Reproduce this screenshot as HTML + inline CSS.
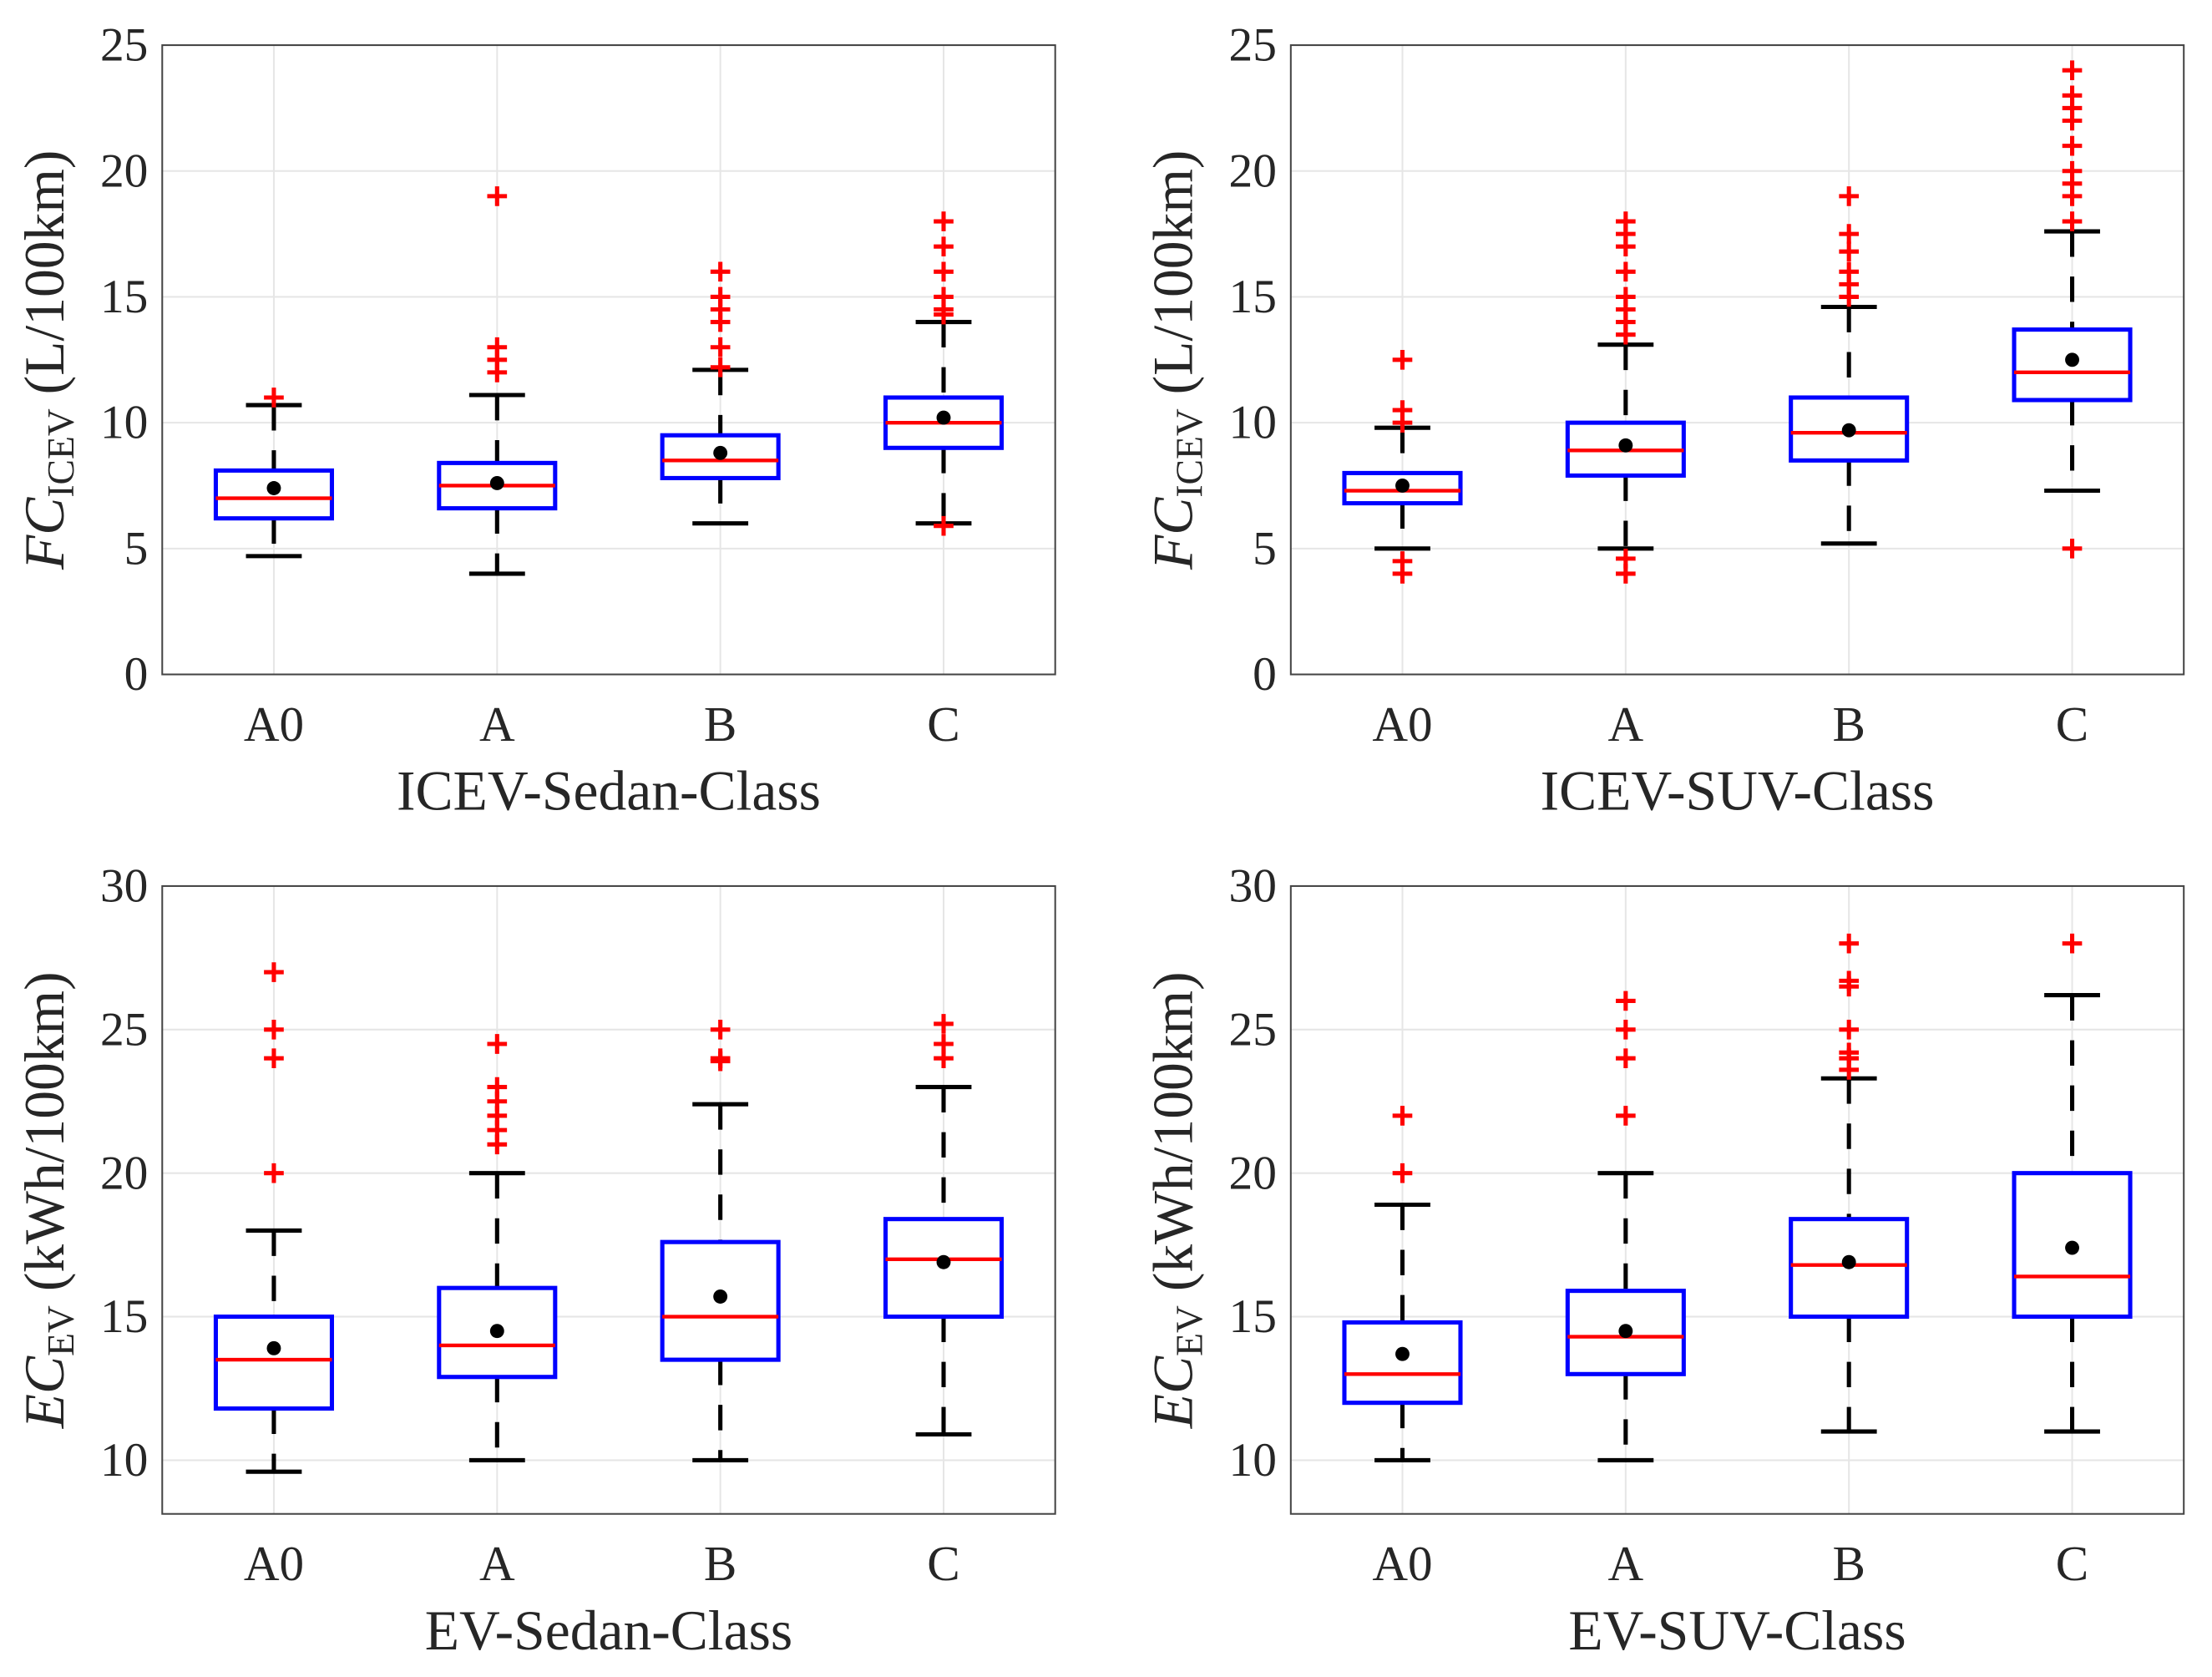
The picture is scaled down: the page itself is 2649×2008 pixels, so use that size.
<!DOCTYPE html>
<html><head><meta charset="utf-8"><style>html,body{margin:0;padding:0;background:#fff}svg{display:block}text{font-family:"Liberation Serif",serif;fill:#262626}</style></head>
<body>
<svg id="c" width="2649" height="2008" viewBox="0 0 1568 1188.6" preserveAspectRatio="none"></svg>
<script>
const categories=["A0","A","B","C"];
// panel 1: ICEV sedan
const p1Low=[4.7,4.0,6.0,6.0], p1Q1=[6.2,6.6,7.8,9.0], p1Med=[7.0,7.5,8.5,10.0], p1Q3=[8.1,8.4,9.5,11.0], p1High=[10.7,11.1,12.1,14.0], p1Mean=[7.4,7.6,8.8,10.2];
const p1Out=[[11],[12,12.5,13,19],[12.2,13,14,14.5,15,16],[5.9,14.3,14.5,15,16,17,18]];
// panel 2: ICEV SUV
const p2Low=[5.0,5.0,5.2,7.3], p2Q1=[6.8,7.9,8.5,10.9], p2Med=[7.3,8.9,9.6,12.0], p2Q3=[8.0,10.0,11.0,13.7], p2High=[9.8,13.1,14.6,17.6], p2Mean=[7.5,9.1,9.7,12.5];
const p2Out=[[4,4.5,10,10.5,12.5],[4,4.6,13.5,14,14.5,15,16,17,17.5,18],[15,15.5,16,16.8,17.5,19],[5,18,19,19.5,20,21,22,22.5,23,24]];
// panel 3: EV sedan
const p3Low=[9.6,10,10,10.9], p3Q1=[11.8,12.9,13.5,15], p3Med=[13.5,14.0,15,17], p3Q3=[15.0,16.0,17.6,18.4], p3High=[18.0,20.0,22.4,23], p3Mean=[13.9,14.5,15.7,16.9];
const p3Out=[[20,24,25,27],[21,21.5,22,22.5,23,24.5],[23.9,24,25],[24,24.5,25.2]];
// panel 4: EV SUV
const p4Low=[10,10,11,11], p4Q1=[12,13,15,15], p4Med=[13,14.3,16.8,16.4], p4Q3=[14.8,15.9,18.4,20], p4High=[18.9,20,23.3,26.2], p4Mean=[13.7,14.5,16.9,17.4];
const p4Out=[[20,22],[22,24,25,26],[23.6,24,24.2,25,26.5,26.7,28],[28]];
const ticksFC=[0,5,10,15,20,25], ticksEC=[10,15,20,25,30];

const NS="http://www.w3.org/2000/svg", svg=document.getElementById('c');
function el(t,a,p){const e=document.createElementNS(NS,t);for(const k in a)e.setAttribute(k,a[k]);(p||svg).appendChild(e);return e;}
function panel(name,L,T,R,B,ymin,ymax,ticks,low,q1,med,q3,high,mean,out,ylab1,ylab2,xlab){
  const g=el('g',{});
  
  
  const X=v=>L+(v-0.5)*(R-L)/4, Y=v=>B-(v-ymin)*(B-T)/(ymax-ymin);
  ticks.forEach(t=>{const l=el('line',{x1:L,x2:R,y1:Y(t),y2:Y(t),stroke:'#e6e6e6','stroke-width':1.2},g);
    
    const tx=el('text',{x:L-10,y:Y(t)+11,'text-anchor':'end','font-size':34},g);tx.textContent=t;
    });
  categories.forEach((c,i)=>{const x=X(i+1);
    const l=el('line',{x1:x,x2:x,y1:T,y2:B,stroke:'#e6e6e6','stroke-width':1.2},g);
    
    const tx=el('text',{x:x,y:B+47,'text-anchor':'middle','font-size':35},g);tx.textContent=c;
    });
  const fr=el('rect',{x:L,y:T,width:R-L,height:B-T,fill:'none',stroke:'#444','stroke-width':1.2},g);
  
  const hw=0.26*(R-L)/4, cw=0.125*(R-L)/4;
  categories.forEach((c,i)=>{const x=X(i+1);
    const bg=el('g',{},g);
    
    
    el('line',{x1:x,x2:x,y1:Y(high[i]),y2:Y(q3[i]),stroke:'#000','stroke-width':3,'stroke-dasharray':'18 14'},bg);
    el('line',{x1:x,x2:x,y1:Y(q1[i]),y2:Y(low[i]),stroke:'#000','stroke-width':3,'stroke-dasharray':'18 14'},bg);
    el('line',{x1:x-cw,x2:x+cw,y1:Y(high[i]),y2:Y(high[i]),stroke:'#000','stroke-width':3},bg);
    el('line',{x1:x-cw,x2:x+cw,y1:Y(low[i]),y2:Y(low[i]),stroke:'#000','stroke-width':3},bg);
    el('rect',{x:x-hw,y:Y(q3[i]),width:2*hw,height:Y(q1[i])-Y(q3[i]),fill:'#fff',stroke:'#0000ff','stroke-width':3},bg);
    el('line',{x1:x-hw,x2:x+hw,y1:Y(med[i]),y2:Y(med[i]),stroke:'#ff0000','stroke-width':2.6},bg);
    el('circle',{cx:x,cy:Y(mean[i]),r:5,fill:'#000'},bg);
    out[i].forEach(o=>{const y=Y(o);
      el('path',{d:`M${x-7} ${y}H${x+7}M${x} ${y-7}V${y+7}`,stroke:'#ff0000','stroke-width':3},bg);});
  });
  const cy=(T+B)/2, lx=L-70;
  const yl=el('text',{transform:`translate(${lx},${cy}) rotate(-90)`,'text-anchor':'middle','font-size':40},g);
  
  yl.innerHTML=`<tspan font-style="italic">${ylab1}</tspan><tspan font-size="27" dy="7">${ylab2}</tspan><tspan dy="-7"> (${ylab2=='ICEV'?'L/100km':'kWh/100km'})</tspan>`;
  const xl=el('text',{x:(L+R)/2,y:B+96,'text-anchor':'middle','font-size':40},g);xl.textContent=xlab;
  
}
panel('icev-sedan-panel',115,32,748,478,0,25,ticksFC,p1Low,p1Q1,p1Med,p1Q3,p1High,p1Mean,p1Out,'FC','ICEV','ICEV-Sedan-Class');
panel('icev-suv-panel',915,32,1548,478,0,25,ticksFC,p2Low,p2Q1,p2Med,p2Q3,p2High,p2Mean,p2Out,'FC','ICEV','ICEV-SUV-Class');
panel('ev-sedan-panel',115,628,748,1073,8.13,30,ticksEC,p3Low,p3Q1,p3Med,p3Q3,p3High,p3Mean,p3Out,'EC','EV','EV-Sedan-Class');
panel('ev-suv-panel',915,628,1548,1073,8.13,30,ticksEC,p4Low,p4Q1,p4Med,p4Q3,p4High,p4Mean,p4Out,'EC','EV','EV-SUV-Class');
</script>
</body></html>
